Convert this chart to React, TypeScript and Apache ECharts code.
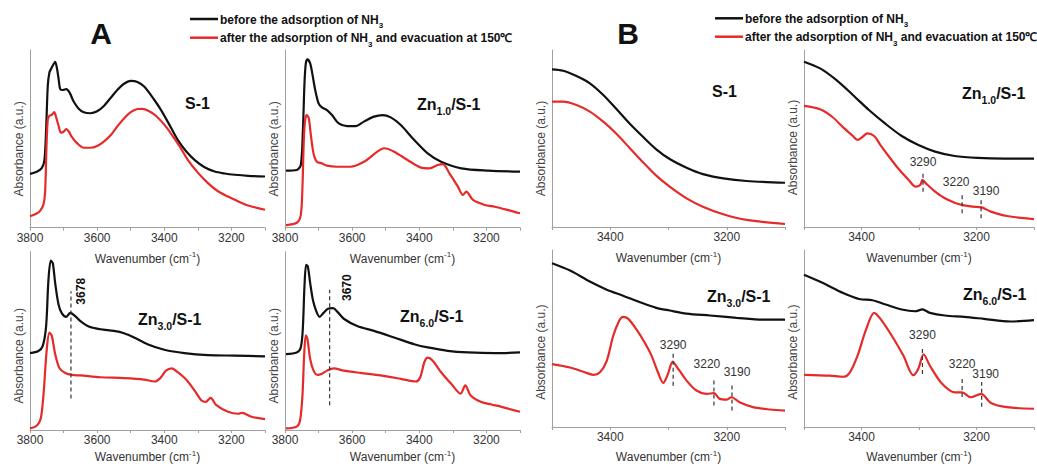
import React, { useEffect, useRef } from "react";
import * as echarts from "echarts";

type Pt = [number, number];

// ---------------- DATA (wavenumber cm-1, absorbance a.u.) ----------------
// Panel A: 3800-3100 cm-1
const a1Before: Pt[] = [[3800,30.3],[3780,31.5],[3765,33.5],[3757,38],[3752,55],[3747,80],[3742,87.5],[3737,89.5],[3730,92],[3725,93.4],[3720,90],[3715,84],[3710,78],[3702,77.5],[3692,78],[3682,76],[3670,71],[3655,67],[3640,65],[3620,64.4],[3600,65.5],[3580,68.5],[3560,73],[3540,77.5],[3520,81],[3500,82.6],[3480,82],[3460,79.4],[3430,72],[3410,66.3],[3385,58],[3360,49.4],[3335,43],[3310,38.2],[3280,34],[3250,31.6],[3220,30.5],[3190,29.8],[3150,29.2],[3100,28.8]];
const a1After: Pt[] = [[3800,6.4],[3780,8],[3770,9.5],[3760,13],[3755,20],[3751,45],[3747,61],[3742,63],[3735,63.5],[3728,65],[3722,62],[3715,57.5],[3708,53.5],[3700,54],[3692,55.5],[3684,54],[3675,51],[3660,47.6],[3640,45],[3620,45],[3600,46],[3580,48.5],[3560,52],[3540,57],[3520,61.5],[3500,65],[3480,66.8],[3465,66.9],[3445,65.5],[3425,63],[3400,58],[3380,53],[3355,46],[3330,38.2],[3300,31],[3270,25.1],[3240,20.5],[3210,17.5],[3190,15.7],[3150,12.5],[3100,10.1]];

const a2Before: Pt[] = [[3797,32.1],[3765,32.5],[3753,35.3],[3747,53.1],[3742,81.2],[3738,92.5],[3733,94.7],[3725,92.5],[3718,86],[3710,77.5],[3700,70],[3690,67.7],[3675,66.2],[3660,63.4],[3640,58.7],[3615,57.2],[3590,57.2],[3565,59.7],[3535,62.5],[3510,63.4],[3485,62.1],[3455,57.8],[3415,49.3],[3375,41.8],[3335,37.1],[3275,33.4],[3195,32.1],[3100,31.5]];
const a2After: Pt[] = [[3797,1.5],[3765,2.8],[3753,7.1],[3748,23],[3744,49.3],[3740,60.6],[3735,63.4],[3729,61.5],[3723,52.2],[3715,41.8],[3705,37.1],[3690,36.2],[3675,34.9],[3645,34.3],[3605,34.3],[3565,37.1],[3525,42.8],[3505,44.7],[3475,42.8],[3435,38.1],[3395,33.8],[3370,33.4],[3345,35.3],[3330,35.8],[3310,30.6],[3285,23.1],[3270,18.4],[3260,20.3],[3240,15.6],[3205,12.8],[3175,11.8],[3135,9.9],[3100,8.1]];

const a3Before: Pt[] = [[3800,43.1],[3775,44.3],[3762,47.2],[3752,58.3],[3745,84.3],[3738,95],[3732,93.5],[3725,82.4],[3715,70.4],[3705,65.4],[3692,63.5],[3680,65.7],[3668,64.3],[3650,61.1],[3625,58],[3590,56.5],[3550,55.6],[3520,54.3],[3490,51.9],[3450,48.1],[3400,45],[3340,43.1],[3270,42],[3190,41.7],[3100,41.3]];
const a3After: Pt[] = [[3800,0.9],[3780,2.4],[3768,6.5],[3760,19.4],[3750,45.4],[3742,54.6],[3735,52.8],[3725,42.6],[3712,34.6],[3695,32],[3675,30.9],[3650,30.6],[3590,29.6],[3520,29.1],[3460,28.3],[3428,27.2],[3412,29.1],[3395,33.3],[3378,34.6],[3360,32.4],[3335,28.3],[3310,22.2],[3290,16.7],[3277,15.7],[3262,18],[3245,13.9],[3210,10.2],[3180,9.1],[3168,9.6],[3140,7.4],[3100,6.1]];

const a4Before: Pt[] = [[3797,42.6],[3765,43.5],[3753,46.3],[3747,56.5],[3742,80.6],[3737,92.6],[3732,91.7],[3725,82.4],[3717,73.1],[3707,66.7],[3697,63.5],[3685,65.7],[3672,68],[3657,68.3],[3643,66.1],[3625,62.4],[3585,58.3],[3535,55.6],[3475,51.9],[3415,48.1],[3375,46.3],[3315,44.4],[3255,43.5],[3175,43.1],[3100,43.5]];
const a4After: Pt[] = [[3797,0.9],[3765,1.9],[3755,5.6],[3748,19.4],[3743,41.7],[3738,53.1],[3733,50.9],[3725,39.8],[3715,33.3],[3703,30.9],[3690,31.5],[3675,33.3],[3655,34.6],[3625,33.3],[3575,32],[3515,30.6],[3455,28.7],[3410,27.2],[3397,29.6],[3385,38],[3375,40.6],[3360,38.9],[3335,32.4],[3305,25.9],[3277,20.4],[3263,25],[3247,19.4],[3215,15.7],[3185,14.3],[3155,13],[3100,10.2]];

// Panel B: 3500-3100 cm-1
const b1Before: Pt[] = [[3500,89.1],[3481,88.3],[3458,85.3],[3435,81.2],[3412,74.6],[3389,66.5],[3366,58.2],[3343,50.7],[3321,43.9],[3298,38.4],[3269,33.5],[3241,29.9],[3206,27.5],[3166,26],[3100,25]];
const b1After: Pt[] = [[3500,70.8],[3481,70.8],[3458,68.9],[3435,65.2],[3412,59.5],[3389,52.5],[3366,44.4],[3343,36.3],[3321,29],[3298,22.8],[3269,16.2],[3241,11.5],[3206,7.2],[3166,4],[3100,1.7]];

const b2Before: Pt[] = [[3500,93.4],[3472,89.6],[3444,83.1],[3415,74.6],[3387,66.1],[3358,58.2],[3330,51.4],[3301,46.3],[3272,42.6],[3238,40.1],[3198,39],[3152,38.6],[3100,38.6]];
const b2After: Pt[] = [[3500,68.4],[3472,66.5],[3450,62],[3430,55.7],[3415,51.4],[3407,49.2],[3398,51],[3390,52.9],[3378,51.4],[3367,46.3],[3352,39.7],[3335,32.6],[3318,26.6],[3306,22.8],[3298,23.7],[3294,26.6],[3287,24.3],[3272,20],[3255,16.2],[3238,13.7],[3224,12.4],[3207,11.5],[3191,11.1],[3175,8.7],[3147,6.2],[3100,4.5]];

const b3Before: Pt[] = [[3500,92.5],[3469,88.4],[3435,82.2],[3406,77.6],[3378,74.2],[3349,70.5],[3321,67.3],[3298,65.8],[3269,64.1],[3229,63],[3183,61.7],[3138,60.7],[3100,60.7]];
const b3After: Pt[] = [[3500,35.5],[3469,33.6],[3446,31.2],[3429,29.5],[3418,30.8],[3406,37.4],[3395,51.4],[3385,59.8],[3378,62.2],[3369,61.1],[3355,55.1],[3341,47.7],[3329,40.2],[3318,30.8],[3309,24.9],[3301,29.9],[3293,36.8],[3283,32.7],[3269,26.2],[3252,20.6],[3235,18.7],[3222,19.1],[3212,15.9],[3200,15.5],[3192,16.8],[3178,14],[3155,11.2],[3126,9.9],[3100,9.3]];

const b4Before: Pt[] = [[3500,86],[3467,81.3],[3432,75.7],[3404,72.3],[3381,71.6],[3358,69.2],[3330,66.4],[3307,65.4],[3294,66.4],[3281,64.5],[3255,63],[3221,62.2],[3187,61.1],[3141,59.6],[3100,60.4]];
const b4After: Pt[] = [[3500,29.5],[3455,29],[3432,28.4],[3421,30.5],[3407,40.2],[3392,55.1],[3378,64.5],[3367,61.1],[3347,51.4],[3327,40.2],[3310,29.3],[3301,33.1],[3292,41.1],[3281,34.6],[3261,24.9],[3238,19.6],[3225,19.6],[3210,16.8],[3192,18.7],[3175,13.6],[3147,11.2],[3100,10.3]];

const beforeSeries: Pt[][] = [a1Before, a2Before, a3Before, a4Before, b1Before, b2Before, b3Before, b4Before];
const afterSeries: Pt[][] = [a1After, a2After, a3After, a4After, b1After, b2After, b3After, b4After];

const xRangesMax = [3800, 3800, 3800, 3800, 3500, 3500, 3500, 3500];
const xMin = 3100;
const tickStep = 100;

const panelNames = [
  { main: "S-1", sub: "", rest: "" },
  { main: "Zn", sub: "1.0", rest: "/S-1" },
  { main: "Zn", sub: "3.0", rest: "/S-1" },
  { main: "Zn", sub: "6.0", rest: "/S-1" },
  { main: "S-1", sub: "", rest: "" },
  { main: "Zn", sub: "1.0", rest: "/S-1" },
  { main: "Zn", sub: "3.0", rest: "/S-1" },
  { main: "Zn", sub: "6.0", rest: "/S-1" },
];

const legendBefore = ["before the adsorption of NH", "3", ""];
const legendAfter = ["after the adsorption of NH", "3", " and evacuation at 150\u2103"];
const yAxisName = "Absorbance (a.u.)";
const figureLetters = ["A", "B"];

// annotations: panel index, wavenumber, vertical span (a.u.), label
const annotations = [
  { panel: 2, wn: 3678, from: 17.6, to: 77.8, label: "3678", bold: true },
  { panel: 3, wn: 3667, from: 13.9, to: 78.7, label: "3670", bold: true },
  { panel: 5, wn: 3293, from: 19.9, to: 31.2, label: "3290", bold: false },
  { panel: 5, wn: 3225, from: 7.7, to: 18.1, label: "3220", bold: false },
  { panel: 5, wn: 3192, from: 4.9, to: 16.2, label: "3190", bold: false },
  { panel: 6, wn: 3292, from: 23.3, to: 42.2, label: "3290", bold: false },
  { panel: 6, wn: 3222, from: 12.1, to: 27.1, label: "3220", bold: false },
  { panel: 6, wn: 3191, from: 9.3, to: 24.3, label: "3190", bold: false },
  { panel: 7, wn: 3294, from: 29.9, to: 45, label: "3290", bold: false },
  { panel: 7, wn: 3225, from: 17, to: 27.1, label: "3220", bold: false },
  { panel: 7, wn: 3191, from: 11.4, to: 25.4, label: "3190", bold: false },
];

// ---------------- LAYOUT ----------------
const FONT = '"Liberation Sans", Arial, Helvetica, sans-serif';
const BLACK = "#111111";
const RED = "#e62a2a";
const AXIS = "#a0a0a0";

const gridBoxes = [
  { left: 30, top: 50, width: 235, height: 177.7 },
  { left: 285, top: 50, width: 235, height: 177.7 },
  { left: 30, top: 251.7, width: 235, height: 180 },
  { left: 285, top: 251.7, width: 235, height: 180 },
  { left: 552, top: 50, width: 233, height: 177 },
  { left: 804, top: 50, width: 233, height: 177 },
  { left: 552, top: 250, width: 233, height: 178.3 },
  { left: 804, top: 250, width: 233, height: 178.3 },
];
const nameGaps = [23, 23, 19, 19, 23, 23, 22, 22];
const yNameShift = [10, 10, 14, 14, 10, 9, 13, 13];
const titlePos = [
  [185, 104], [417, 104], [138, 319], [400, 315.5],
  [712, 92.3], [962, 92.5], [707, 295.5], [963, 294],
];
const labelOffsets = [
  [10, 0], [17, -2], [0, -10], [-6, -13], [5, -7],
  [0, -7], [-7, -15], [5, -12], [0, -12], [0, -15], [4, -8],
];
const legendPos = [
  { x1: 190, x2: 218, xt: 220, y1: 19, y2: 37.7 },
  { x1: 715, x2: 743, xt: 745, y1: 18.3, y2: 36.7 },
];
const letterPos = [[101, 33], [628, 33]];

const subRich = {
  n: { fontSize: 12, fontWeight: "bold", lineHeight: 14, verticalAlign: "top", fontFamily: FONT, fill: BLACK, color: BLACK },
  s: { fontSize: 8, fontWeight: "bold", lineHeight: 9, padding: [8, 0, 0, 0], verticalAlign: "top", fontFamily: FONT, fill: BLACK, color: BLACK },
};
const titleRich = {
  n: { fontSize: 16, fontWeight: "bold", lineHeight: 18, verticalAlign: "top", fontFamily: FONT, fill: BLACK, color: BLACK },
  s: { fontSize: 10.5, fontWeight: "bold", lineHeight: 12, padding: [9, 0, 0, 0], verticalAlign: "top", fontFamily: FONT, fill: BLACK, color: BLACK },
};

function buildOption() {
  const grid = gridBoxes.map((g) => ({ ...g, containLabel: false }));
  const xAxis = gridBoxes.map((_, i) => ({
    gridIndex: i,
    type: "value",
    min: xMin,
    max: xRangesMax[i],
    interval: tickStep,
    inverse: true,
    axisLine: { show: true, onZero: false, lineStyle: { color: AXIS, width: 1 } },
    axisTick: { show: true, length: 3, lineStyle: { color: AXIS } },
    axisLabel: {
      interval: 0,
      margin: 4,
      color: "#333",
      fontSize: 12,
      fontFamily: FONT,
      formatter: (v: number) => (v % 200 === 0 ? String(v) : ""),
    },
    splitLine: { show: false },
    name: "{n|Wavenumber (cm}{s|-1}{n|)}",
    nameLocation: "middle",
    nameGap: nameGaps[i],
    nameTextStyle: {
      rich: {
        n: { fontSize: 12, lineHeight: 14, verticalAlign: "bottom", color: "#333", fontFamily: FONT },
        s: { fontSize: 8, lineHeight: 9, verticalAlign: "top", color: "#333", fontFamily: FONT },
      },
    },
  }));
  const yAxis = gridBoxes.map((_, i) => ({
    gridIndex: i,
    type: "value",
    min: 0,
    max: 100,
    axisLine: { show: true, lineStyle: { color: AXIS, width: 1 } },
    axisTick: { show: false },
    axisLabel: { show: false },
    splitLine: { show: false },
  }));
  const series: any[] = [];
  gridBoxes.forEach((_, i) => {
    series.push({
      type: "line", xAxisIndex: i, yAxisIndex: i, data: beforeSeries[i],
      showSymbol: false, smooth: 0.3, silent: true,
      lineStyle: { color: BLACK, width: 2.2 },
    });
    series.push({
      type: "line", xAxisIndex: i, yAxisIndex: i, data: afterSeries[i],
      showSymbol: false, smooth: 0.3, silent: true,
      lineStyle: { color: RED, width: 2.2 },
    });
  });
  annotations.forEach((a) => {
    series.push({
      type: "line", xAxisIndex: a.panel, yAxisIndex: a.panel,
      data: [[a.wn, a.from], [a.wn, a.to]],
      showSymbol: false, silent: true, z: 3,
      lineStyle: { color: "#333", width: 1.2, type: [4, 3] },
    });
  });
  return { animation: false, backgroundColor: "#ffffff", grid, xAxis, yAxis, series };
}

function buildGraphics(chart: any) {
  const g: any[] = [];
  figureLetters.forEach((t, i) => {
    g.push({
      type: "text", x: letterPos[i][0], y: letterPos[i][1],
      style: { text: t, fontSize: 30, fontWeight: "bold", fontFamily: FONT, fill: BLACK, align: "center", verticalAlign: "middle" },
    });
  });
  legendPos.forEach((p) => {
    g.push({ type: "line", shape: { x1: p.x1, y1: p.y1, x2: p.x2, y2: p.y1 }, style: { stroke: BLACK, lineWidth: 2.5 } });
    g.push({ type: "line", shape: { x1: p.x1, y1: p.y2, x2: p.x2, y2: p.y2 }, style: { stroke: RED, lineWidth: 2.5 } });
    g.push({
      type: "text", x: p.xt, y: p.y1 + 1.5,
      style: { text: `{n|${legendBefore[0]}}{s|${legendBefore[1]}}`, rich: subRich, align: "left", verticalAlign: "middle" },
    });
    g.push({
      type: "text", x: p.xt, y: p.y2 + 1.5,
      style: { text: `{n|${legendAfter[0]}}{s|${legendAfter[1]}}{n|${legendAfter[2]}}`, rich: subRich, align: "left", verticalAlign: "middle" },
    });
  });
  panelNames.forEach((p, i) => {
    const txt = p.sub ? `{n|${p.main}}{s|${p.sub}}{n|${p.rest}}` : `{n|${p.main}}`;
    g.push({
      type: "text", x: titlePos[i][0], y: titlePos[i][1] + (p.sub ? 1.5 : 0),
      style: { text: txt, rich: titleRich, align: "left", verticalAlign: "middle" },
    });
  });
  gridBoxes.forEach((b, i) => {
    g.push({
      type: "text", x: b.left - 11, y: b.top + b.height / 2 + yNameShift[i], rotation: Math.PI / 2,
      style: { text: yAxisName, fontSize: 12, fontFamily: FONT, fill: "#444", align: "center", verticalAlign: "middle" },
    });
  });
  annotations.forEach((a, k) => {
    const p = chart.convertToPixel({ gridIndex: a.panel }, [a.wn, a.to]);
    if (!p) return;
    g.push({
      type: "text",
      x: p[0] + labelOffsets[k][0],
      y: p[1] + labelOffsets[k][1],
      rotation: a.bold ? Math.PI / 2 : 0,
      style: {
        text: a.label, fontSize: 12, fontWeight: a.bold ? "bold" : "normal", fontFamily: FONT,
        fill: a.bold ? BLACK : "#333", align: "center", verticalAlign: "middle",
      },
    });
  });
  return g;
}

export default function App() {
  const ref = useRef<HTMLDivElement>(null);
  useEffect(() => {
    if (!ref.current) return;
    const chart = echarts.init(ref.current, null, { renderer: "svg" });
    chart.setOption(buildOption() as any);
    chart.setOption({ graphic: buildGraphics(chart) } as any);
    return () => chart.dispose();
  }, []);
  return (
    <div
      ref={ref}
      style={{ position: "fixed", left: 0, top: 0, width: 1037, height: 464, background: "#fff" }}
    />
  );
}
